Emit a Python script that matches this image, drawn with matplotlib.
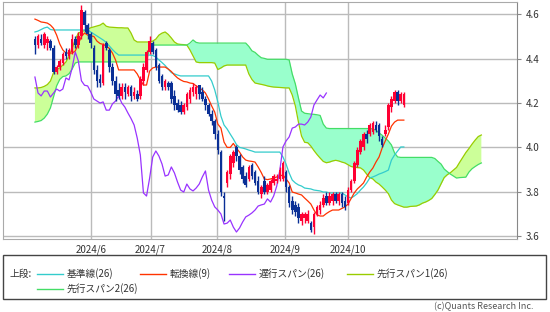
import matplotlib
matplotlib.use("Agg")
import matplotlib.pyplot as plt
from matplotlib.lines import Line2D
from matplotlib.patches import Rectangle
import numpy as np

plt.rcParams['font.family'] = ['Noto Sans CJK JP', 'DejaVu Sans']

# ---------------- data ----------------
opens = [4.49, 4.46, 4.49, 4.46, 4.47, 4.48, 4.45, 4.34, 4.36, 4.38,
         4.43, 4.41, 4.43, 4.49, 4.46, 4.50, 4.61, 4.55, 4.51, 4.45,
         4.35, 4.31, 4.29, 4.47, 4.44, 4.36, 4.30, 4.26, 4.23, 4.27,
         4.24, 4.27, 4.23, 4.24, 4.23, 4.30, 4.35, 4.43, 4.47, 4.44,
         4.37, 4.32, 4.27, 4.29, 4.29, 4.23, 4.20, 4.19, 4.16, 4.18,
         4.22, 4.25, 4.24, 4.28, 4.25, 4.22, 4.19, 4.15, 4.12, 4.06,
         3.98, 3.78, 3.84, 3.88, 3.93, 4.00, 3.96, 3.91, 3.87, 3.86,
         3.92, 3.89, 3.85, 3.79, 3.85, 3.80, 3.81, 3.84, 3.85, 3.86,
         3.86, 3.89, 3.82, 3.76, 3.74, 3.73, 3.67, 3.68, 3.67, 3.66,
         3.64, 3.70, 3.72, 3.74, 3.78, 3.75, 3.76, 3.79, 3.76, 3.79,
         3.76, 3.75, 3.81, 3.85, 3.92, 3.98, 4.00, 4.06, 4.06, 4.07,
         4.10, 4.10, 4.04, 4.06, 4.09, 4.18, 4.21, 4.25, 4.21, 4.19]
highs = [4.50, 4.51, 4.51, 4.52, 4.50, 4.49, 4.46, 4.37, 4.40, 4.43,
         4.45, 4.45, 4.51, 4.50, 4.52, 4.64, 4.62, 4.56, 4.52, 4.46,
         4.37, 4.33, 4.47, 4.48, 4.45, 4.38, 4.32, 4.29, 4.29, 4.29,
         4.28, 4.28, 4.27, 4.26, 4.32, 4.38, 4.44, 4.50, 4.48, 4.45,
         4.38, 4.33, 4.31, 4.30, 4.30, 4.26, 4.22, 4.21, 4.20, 4.25,
         4.27, 4.29, 4.28, 4.28, 4.27, 4.23, 4.20, 4.17, 4.13, 4.08,
         3.99, 3.80, 3.90, 3.97, 3.99, 4.01, 3.97, 3.92, 3.89, 3.92,
         3.93, 3.90, 3.87, 3.83, 3.87, 3.84, 3.86, 3.88, 3.88, 3.91,
         3.94, 3.90, 3.83, 3.78, 3.76, 3.75, 3.71, 3.71, 3.72, 3.67,
         3.71, 3.74, 3.76, 3.79, 3.80, 3.80, 3.80, 3.80, 3.80, 3.80,
         3.78, 3.82, 3.86, 3.94, 4.00, 4.04, 4.07, 4.08, 4.11, 4.12,
         4.12, 4.11, 4.05, 4.10, 4.20, 4.23, 4.26, 4.26, 4.25, 4.25]
lows = [4.42, 4.45, 4.46, 4.45, 4.44, 4.44, 4.33, 4.33, 4.35, 4.37,
        4.40, 4.40, 4.42, 4.45, 4.45, 4.49, 4.52, 4.49, 4.45, 4.33,
        4.27, 4.27, 4.28, 4.44, 4.34, 4.28, 4.21, 4.22, 4.22, 4.22,
        4.23, 4.21, 4.22, 4.21, 4.22, 4.28, 4.34, 4.42, 4.42, 4.35,
        4.29, 4.26, 4.26, 4.26, 4.20, 4.17, 4.16, 4.15, 4.15, 4.17,
        4.20, 4.23, 4.22, 4.22, 4.21, 4.17, 4.14, 4.10, 4.04, 3.97,
        3.78, 3.67, 3.82, 3.86, 3.91, 3.94, 3.88, 3.84, 3.82, 3.85,
        3.86, 3.83, 3.79, 3.77, 3.79, 3.79, 3.80, 3.83, 3.84, 3.85,
        3.85, 3.80, 3.73, 3.70, 3.69, 3.66, 3.65, 3.66, 3.66, 3.62,
        3.61, 3.69, 3.70, 3.73, 3.74, 3.74, 3.74, 3.75, 3.74, 3.73,
        3.72, 3.74, 3.80, 3.84, 3.91, 3.97, 3.99, 4.02, 4.05, 4.06,
        4.07, 4.03, 4.00, 4.05, 4.08, 4.16, 4.20, 4.19, 4.20, 4.18]
closes = [4.46, 4.50, 4.47, 4.51, 4.49, 4.45, 4.34, 4.36, 4.39, 4.42,
          4.41, 4.44, 4.49, 4.46, 4.50, 4.62, 4.55, 4.51, 4.47, 4.35,
          4.30, 4.29, 4.46, 4.45, 4.36, 4.30, 4.24, 4.23, 4.27, 4.25,
          4.27, 4.23, 4.25, 4.22, 4.31, 4.36, 4.43, 4.48, 4.43, 4.36,
          4.30, 4.27, 4.30, 4.27, 4.22, 4.19, 4.17, 4.16, 4.19, 4.24,
          4.26, 4.27, 4.27, 4.24, 4.22, 4.19, 4.15, 4.12, 4.06, 3.99,
          3.80, 3.77, 3.89, 3.96, 3.98, 3.96, 3.90, 3.86, 3.83, 3.91,
          3.87, 3.84, 3.80, 3.82, 3.80, 3.83, 3.85, 3.87, 3.86, 3.90,
          3.93, 3.82, 3.75, 3.72, 3.71, 3.68, 3.70, 3.70, 3.70, 3.63,
          3.70, 3.73, 3.74, 3.77, 3.75, 3.78, 3.79, 3.76, 3.79, 3.75,
          3.73, 3.81, 3.85, 3.93, 3.99, 4.03, 4.06, 4.04, 4.10, 4.11,
          4.08, 4.05, 4.01, 4.08, 4.19, 4.22, 4.25, 4.21, 4.24, 4.24]

# 転換線(9)
tenkan = [4.578, 4.572, 4.565, 4.563, 4.560, 4.551, 4.536, 4.506, 4.466, 4.439,
          4.425, 4.425, 4.425, 4.434, 4.466, 4.500, 4.515, 4.506, 4.502, 4.500,
          4.479, 4.468, 4.464, 4.457, 4.446, 4.425, 4.394, 4.349, 4.349, 4.349,
          4.349, 4.349, 4.349, 4.331, 4.304, 4.281, 4.281, 4.344, 4.358, 4.362,
          4.362, 4.362, 4.362, 4.353, 4.342, 4.326, 4.313, 4.304, 4.297, 4.295,
          4.290, 4.288, 4.277, 4.268, 4.259, 4.245, 4.218, 4.187, 4.159, 4.105,
          4.087, 4.024, 4.000, 4.000, 4.018, 3.997, 3.979, 3.957, 3.943, 3.939,
          3.937, 3.934, 3.912, 3.887, 3.858, 3.855, 3.858, 3.862, 3.867, 3.871,
          3.876, 3.858, 3.840, 3.799, 3.795, 3.790, 3.786, 3.772, 3.759, 3.745,
          3.718, 3.696, 3.691, 3.691, 3.702, 3.711, 3.718, 3.718, 3.718, 3.725,
          3.732, 3.745, 3.770, 3.795, 3.813, 3.826, 3.840, 3.867, 3.889, 3.907,
          3.934, 3.957, 3.997, 4.029, 4.060, 4.096, 4.114, 4.123, 4.123, 4.123]

# 基準線(26)
kijun = [4.520, 4.524, 4.531, 4.538, 4.542, 4.531, 4.529, 4.529, 4.529, 4.529,
         4.529, 4.529, 4.529, 4.529, 4.529, 4.529, 4.529, 4.529, 4.520, 4.511,
         4.502, 4.493, 4.484, 4.473, 4.457, 4.441, 4.427, 4.416, 4.416, 4.416,
         4.416, 4.416, 4.416, 4.416, 4.416, 4.416, 4.416, 4.416, 4.414, 4.407,
         4.394, 4.382, 4.369, 4.353, 4.337, 4.331, 4.326, 4.322, 4.322, 4.322,
         4.322, 4.322, 4.322, 4.322, 4.322, 4.322, 4.322, 4.299, 4.259, 4.205,
         4.141, 4.101, 4.083, 4.060, 4.038, 4.013, 4.000, 3.997, 3.993, 3.988,
         3.984, 3.979, 3.979, 3.979, 3.979, 3.979, 3.979, 3.979, 3.979, 3.979,
         3.957, 3.925, 3.885, 3.853, 3.840, 3.831, 3.826, 3.817, 3.815, 3.813,
         3.808, 3.806, 3.804, 3.799, 3.799, 3.795, 3.795, 3.795, 3.795, 3.795,
         3.786, 3.777, 3.772, 3.781, 3.792, 3.808, 3.822, 3.840, 3.862, 3.867,
         3.873, 3.880, 3.885, 3.891, 3.898, 3.943, 3.966, 3.984, 4.002, 4.002]

# 遅行スパン(26)
chikou = [4.317, 4.245, 4.232, 4.254, 4.254, 4.227, 4.245, 4.263, 4.254, 4.263,
          4.313, 4.304, 4.358, 4.430, 4.390, 4.300, 4.280, 4.277, 4.250, 4.218,
          4.209, 4.200, 4.205, 4.168, 4.168, 4.196, 4.209, 4.232, 4.200, 4.182,
          4.155, 4.130, 4.101, 4.042, 3.966, 3.795, 3.781, 3.862, 3.957, 3.984,
          3.961, 3.925, 3.871, 3.876, 3.912, 3.885, 3.844, 3.808, 3.799, 3.835,
          3.813, 3.804, 3.817, 3.835, 3.867, 3.894, 3.808, 3.763, 3.732, 3.718,
          3.700, 3.655, 3.659, 3.673, 3.641, 3.619, 3.637, 3.664, 3.687, 3.695,
          3.705, 3.718, 3.736, 3.741, 3.745, 3.768, 3.754, 3.781, 3.826, 3.898,
          4.002, 4.029, 4.047, 4.087, 4.092, 4.105, 4.105, 4.101, 4.114, 4.137,
          4.191, 4.214, 4.236, 4.223, 4.245]

# 先行スパン1(26)
span1 = [4.268, 4.268, 4.270, 4.275, 4.283, 4.299, 4.337, 4.351, 4.358, 4.371,
         4.385, 4.412, 4.446, 4.486, 4.515, 4.521, 4.527, 4.533, 4.539, 4.543,
         4.547, 4.551, 4.560, 4.546, 4.542, 4.541, 4.540, 4.539, 4.539, 4.538,
         4.538, 4.515, 4.484, 4.475, 4.475, 4.475, 4.475, 4.475, 4.479, 4.488,
         4.506, 4.515, 4.520, 4.509, 4.493, 4.475, 4.466, 4.464, 4.463, 4.461,
         4.439, 4.412, 4.385, 4.382, 4.382, 4.382, 4.382, 4.382, 4.380, 4.351,
         4.358, 4.367, 4.371, 4.371, 4.371, 4.371, 4.371, 4.371, 4.371, 4.331,
         4.306, 4.290, 4.287, 4.284, 4.281, 4.277, 4.274, 4.272, 4.271, 4.270,
         4.269, 4.268, 4.268, 4.236, 4.187, 4.114, 4.051, 4.023, 4.021, 4.006,
         3.986, 3.968, 3.952, 3.937, 3.931, 3.934, 3.939, 3.942, 3.939, 3.934,
         3.930, 3.922, 3.914, 3.911, 3.909, 3.908, 3.898, 3.880, 3.864, 3.858,
         3.844, 3.835, 3.822, 3.808, 3.792, 3.763, 3.747, 3.741, 3.736, 3.731,
         3.731, 3.734, 3.735, 3.736, 3.741, 3.749, 3.754, 3.761, 3.770, 3.788,
         3.808, 3.836, 3.864, 3.877, 3.886, 3.898, 3.910, 3.933, 3.955, 3.977,
         3.995, 4.015, 4.033, 4.049, 4.056]

# 先行スパン2(26)
span2 = [4.114, 4.117, 4.121, 4.132, 4.150, 4.178, 4.227, 4.277, 4.306, 4.319,
         4.322, 4.332, 4.353, 4.380, 4.385, 4.385, 4.385, 4.385, 4.385, 4.385,
         4.385, 4.385, 4.385, 4.385, 4.385, 4.385, 4.385, 4.385, 4.385, 4.385,
         4.385, 4.385, 4.385, 4.385, 4.385, 4.385, 4.385, 4.452, 4.461, 4.461,
         4.461, 4.461, 4.461, 4.461, 4.461, 4.461, 4.461, 4.461, 4.461, 4.461,
         4.470, 4.484, 4.473, 4.470, 4.470, 4.470, 4.470, 4.470, 4.470, 4.470,
         4.470, 4.470, 4.470, 4.470, 4.470, 4.470, 4.470, 4.470, 4.470, 4.455,
         4.435, 4.428, 4.415, 4.404, 4.401, 4.397, 4.397, 4.397, 4.397, 4.397,
         4.397, 4.397, 4.394, 4.331, 4.286, 4.223, 4.164, 4.154, 4.152, 4.150,
         4.149, 4.147, 4.144, 4.105, 4.087, 4.085, 4.085, 4.085, 4.085, 4.085,
         4.085, 4.085, 4.085, 4.085, 4.085, 4.085, 4.085, 4.085, 4.085, 4.083,
         4.078, 4.065, 4.055, 4.042, 4.029, 4.011, 3.975, 3.957, 3.955, 3.955,
         3.955, 3.955, 3.955, 3.955, 3.955, 3.955, 3.955, 3.955, 3.955, 3.950,
         3.937, 3.925, 3.903, 3.891, 3.880, 3.871, 3.862, 3.864, 3.865, 3.866,
         3.889, 3.904, 3.914, 3.923, 3.930]

month_labels = ["2024/6", "2024/7", "2024/8", "2024/9", "2024/10"]
month_pos = [18.0, 37.3, 58.8, 80.7, 100.9]   # trading-day index of month start
y_ticks = [3.6, 3.8, 4.0, 4.2, 4.4, 4.6]

legend_items = [("基準線(26)", "#33cccc"), ("転換線(9)", "#ff3300"),
                ("遅行スパン(26)", "#9933ff"), ("先行スパン1(26)", "#99cc00"),
                ("先行スパン2(26)", "#44dd66")]

# ---------------- figure ----------------
W, H = 550, 312
fig = plt.figure(figsize=(W / 100, H / 100), dpi=100)

def px(x0, y0, x1, y1):
    return [x0 / W, 1 - y1 / H, (x1 - x0) / W, (y1 - y0) / H]

ax = fig.add_axes(px(3, 2, 517, 239))
ax.set_facecolor("white")

n = len(closes)
idx = np.arange(n)
o = np.array(opens); c = np.array(closes); h = np.array(highs); l = np.array(lows)
s1 = np.array(span1); s2 = np.array(span2)
sidx = np.arange(len(span1))

# cloud
ax.fill_between(sidx, s1, s2, where=s1 >= s2, interpolate=True,
                color="#ccff99", lw=0, zorder=1)
ax.fill_between(sidx, s1, s2, where=s2 > s1, interpolate=True,
                color="#99ffcc", lw=0, zorder=1)
ax.plot(sidx, s1, color="#99cc00", lw=0.9, zorder=2)
ax.plot(sidx, s2, color="#44dd66", lw=0.9, zorder=2)

# lines
ax.plot(idx, kijun, color="#33cccc", lw=0.9, zorder=3)
ax.plot(idx, tenkan, color="#ff3300", lw=0.9, zorder=3)
ax.plot(np.arange(len(chikou)), chikou, color="#9933ff", lw=0.9, zorder=3)

# candles
up = c >= o
cols = np.where(up, "#ff0033", "#0a2f96")
ax.vlines(idx, l, h, colors=cols, lw=1.0, zorder=4)
body_lo = np.minimum(o, c)
body_h = np.maximum(np.abs(c - o), 0.004)
ax.bar(idx, body_h, bottom=body_lo, width=0.85, color=cols, lw=0, zorder=5)

# axes styling
ax.set_xlim(-10.3, 155.5)
ax.set_ylim(3.5875, 4.655)
ax.set_xticks(month_pos)
ax.set_xticklabels(month_labels, fontsize=7, color="#333333")
ax.set_yticks(y_ticks)
ax.set_yticklabels([f"{v:.1f}" for v in y_ticks], fontsize=7, color="#333333")
ax.yaxis.tick_right()
ax.tick_params(axis="x", length=0, pad=4)
ax.tick_params(axis="y", length=3, width=0.8, color="#888888", pad=3)
ax.grid(True, color="#bbbbbb", lw=1.0, zorder=0)
ax.set_axisbelow(True)
for side, sp in ax.spines.items():
    sp.set_color("#aaaaaa")
    sp.set_linewidth(0.8)
ax.spines["right"].set_color("#888888")

# legend box
box = Rectangle((3 / W, 1 - 299 / H), (546 - 3) / W, (299 - 255) / H,
                transform=fig.transFigure, fill=False, ec="#444444", lw=1.0)
fig.add_artist(box)
fig.text(10 / W, 1 - 274 / H, "上段:", fontsize=7, color="#333333",
         va="center", ha="left")
positions = [(37, 274), (140, 274), (229, 274), (347, 274), (37, 289)]
for (label, color), (x0, yy) in zip(legend_items, positions):
    fig.add_artist(Line2D([x0 / W, (x0 + 26) / W], [1 - yy / H, 1 - yy / H],
                          transform=fig.transFigure, color=color, lw=1.0))
    fig.text((x0 + 30) / W, 1 - yy / H, label, fontsize=7, color="#333333",
             va="center", ha="left")

fig.text(533 / W, 1 - 307 / H, "(c)Quants Research Inc.", fontsize=6.5,
         color="#555555", va="center", ha="right")

fig.savefig("out.png", dpi=100)
